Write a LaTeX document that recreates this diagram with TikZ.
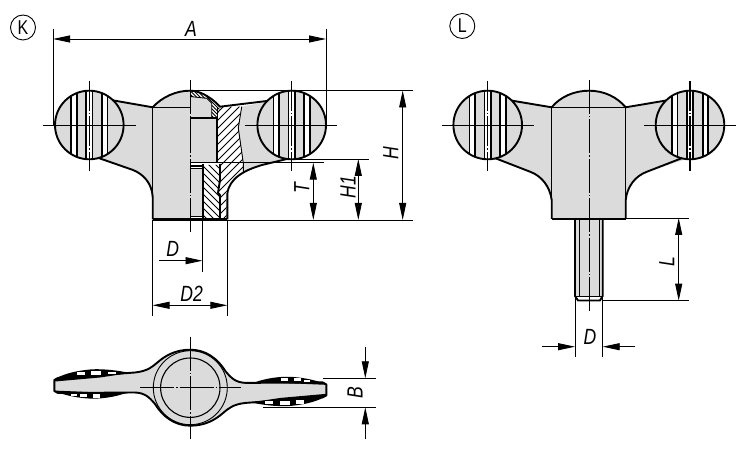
\documentclass[tikz,border=0pt]{standalone}
\usepackage{fontspec}
\newfontfamily\dimfont[FakeStretch=0.8]{Liberation Sans}
\usetikzlibrary{arrows.meta}
\definecolor{partgray}{gray}{0.86}

\begin{document}
\begin{tikzpicture}[x=1pt, y=-1pt, %
      outl/.style={line width=1.9pt, line join=round}, %
      midl/.style={line width=1.1pt}, %
      thinl/.style={line width=0.9pt}, %
      ctr/.style={line width=0.9pt, dash pattern=on 34pt off 2pt on 1.5pt off 2pt}, %
      hatchl/.style={line width=0.75pt}, %
      arr/.style={line width=0.9pt, -{Triangle[length=17pt,width=7pt]}}, %
      arrboth/.style={line width=0.9pt, {Triangle[length=17pt,width=7pt]}-{Triangle[length=17pt,width=7pt]}}, %
      lab/.style={font=\dimfont\itshape\fontsize{22}{22}\selectfont, inner sep=0pt}, %
      tag/.style={font=\dimfont\fontsize{20}{20}\selectfont, circle, draw, line width=0.9pt, minimum size=25pt, inner sep=0pt}, %
      ]
    \useasboundingbox (0,0) rectangle (750,454);

    % view K, left half
    \draw[fill=partgray, draw=none] (108,99.5) -- (152.7,107.3) .. controls (162,97) and (176,90.7) .. (190,90.7) -- (190,219.5) -- (152.7,219.5) -- (152.7,197) .. controls (152,183) and (143,174) .. (133,170) -- (90,155) -- cycle;
    \draw[outl] (108,99.5) -- (152.7,107.3) .. controls (162,97) and (176,90.7) .. (190,90.7);
    \draw[outl] (90,155) -- (133,170) .. controls (143,174) and (152,183) .. (152.7,197) -- (152.7,219.5);
    \draw[midl] (152.7,107.3) -- (152.7,197);
    \draw[midl] (152.7,107.5) -- (190,107.5);

    % view K, wing behind the section
    \fill[partgray] (241.7,106.7) -- (275,100) -- (291,158) -- (262,165) -- (243,172.5) -- (243.3,163.3) -- (241.7,151.7) -- (238.3,128) -- cycle;
    \fill[partgray] (190,96.5) -- (206.7,98.3) -- (211.7,103.3) -- (211.7,118.3) -- (190,118.3) -- cycle;
    \fill[partgray] (190,118.3) rectangle (217.3,162);
    \fill[partgray] (190,168.3) rectangle (202.3,216.5);

    % view K, hatched section
    \begin{scope}
      \clip (218,106.7) -- (241.7,106.7) -- (238.3,128) -- (241.7,151.7) -- (243.3,163.3) -- (243.3,172) -- (230,181.7) -- (226.7,191.7) -- (226.7,219.5) -- (220,219.5) -- (220,195) -- (218,193) -- (220,180) -- (220,164) -- (217.3,162) -- cycle;
      \foreach \h in {60,68,...,280} { %
        \draw[hatchl] (\h,230) -- ++(130,-130);
      }
    \end{scope}
    \begin{scope}
      \clip (203,165) -- (220,165) -- (220,180) -- (218,193) -- (220,195) -- (220,219.5) -- (203,219.5) -- cycle;
      \foreach \h in {60,67,...,230} { %
        \draw[hatchl] (\h,100) -- ++(130,130);
      }
    \end{scope}
    \begin{scope}
      \clip (190,90.7) .. controls (197,90.7) and (208,94) .. (220,106.7) -- (217.3,118) -- (211.7,118.3) -- (211.7,103.3) -- (206.7,98.3) -- (190,96.5) -- cycle;
      \foreach \h in {100,103.5,...,230} { %
        \draw[hatchl] (\h,60) -- ++(60,60);
      }
    \end{scope}

    % view K, section outlines
    \draw[outl] (190,90.7) .. controls (197,90.7) and (208,94) .. (220,106.7) -- (275,100);
    \draw[thinl] (190,96.5) -- (206.7,98.3) -- (211.7,103.3) -- (211.7,118.3);
    \draw[outl] (190,118.3) -- (217.3,118.3) -- (217.3,162);
    \draw[thinl] (217.3,106.7) -- (217.3,118.3);
    \draw[thinl] (241.7,106.7) -- (238.3,128) -- (241.7,151.7) -- (243.3,163.3) -- (243.3,172);
    \draw[outl] (190,162.5) -- (218,162.5);
    \draw[thinl] (218,162.5) -- (243.3,162.5);
    \draw[outl] (190,165.8) -- (203.5,165.8);
    \draw[thinl] (190,168.3) -- (202.3,168.3);
    \draw[outl] (203.3,164.5) -- (203.3,219.5);
    \draw[outl] (220,164) -- (220,180) -- (218,193) -- (220,195) -- (220,219.5);
    \draw[thinl] (190,216.5) -- (203,216.5);
    \draw[outl] (291,158) -- (262,165) .. controls (245,170) and (229,178) .. (227.3,194) -- (227.3,219.5);
    \draw[line width=2.6pt] (152.7,219.5) -- (227.3,219.5);

    % view L, body
    \fill[partgray] (505,99.5) -- (551.7,107.3) .. controls (560,97) and (574,90.7) .. (589,90.7) .. controls (604,90.7) and (617,97) .. (625.7,107.3) -- (672,99.5) -- (690,158) -- (647,171.7) .. controls (635,176) and (627,187) .. (625.7,200) -- (625.7,219) -- (551.7,219) -- (551.7,200) .. controls (550,187) and (542,176) .. (530,171.7) -- (487,155) -- cycle;
    \draw[outl] (505,99.5) -- (551.7,107.3) .. controls (560,97) and (574,90.7) .. (589,90.7) .. controls (604,90.7) and (617,97) .. (625.7,107.3) -- (672,99.5);
    \draw[outl] (690,155) -- (647,171.7) .. controls (635,176) and (627,187) .. (625.7,200) -- (625.7,219);
    \draw[outl] (487,155) -- (530,171.7) .. controls (542,176) and (550,187) .. (551.7,200) -- (551.7,219);
    \draw[midl] (551.7,107.3) -- (551.7,200);
    \draw[midl] (625.7,107.3) -- (625.7,200);
    \draw[midl] (551.7,107.3) -- (625.7,107.3);
    \draw[line width=2.6pt] (551.7,219) -- (625.7,219);

    % view L, stud
    \fill[partgray] (575,220) rectangle (602.7,296);
    \draw[outl] (575,220) -- (575,296) -- (578,300.5) -- (600,300.5) -- (602.7,296) -- (602.7,220);
    \draw[thinl] (579.3,220) -- (579.3,296);
    \draw[thinl] (599,220) -- (599,296);
    \draw[thinl] (575,296) -- (602.7,296);

    % balls with ribs
    \foreach \bx/\lft/\rgt/\tp in {89.3/43/136/79, 291.7/245/337/79, 487.7/441.7/534/79, 690/644/735.7/79}{ %
      \fill[partgray] (\bx,125) circle [radius=34.3pt];
      \begin{scope}
        \clip (\bx,125) circle [radius=34.3pt];
        \foreach \rib in {-15.3,0,15.3} { %
          \fill[white] (\bx+\rib-2.9,85) rectangle (\bx+\rib+2.9,165);
        }
        \foreach \rib in {-18.2,-12.6,-3.2,3.2,12.6,18.2} { %
          \draw[line width=1.8pt] (\bx+\rib,85) -- (\bx+\rib,165);
        }
      \end{scope}
      \draw[outl] (\bx,125) circle [radius=34.3pt];
      \draw[thinl] (\lft,125) -- (\rgt,125);
      \draw[line width=1.1pt, dash pattern=on 30pt off 2pt on 1.5pt off 2pt, dash phase=-2pt] (\bx,\tp) -- (\bx,171);
    }

    % top view
    \foreach \rot in {0,180}{ %
      \begin{scope}[rotate around={\rot:(190.3,387.7)}]
        \draw[outl, fill=partgray] (190.3,349.7) .. controls (175,349.7) and (165,356) .. (158,362) .. controls (152,367) and (148,371) .. (135,372.5) -- (58,378) -- (54.3,380) -- (54.3,391) -- (58,393) -- (135,392.5) .. controls (145,393) and (149,397) .. (155,404) .. controls (163,417) and (175,425.7) .. (190.3,425.7);
        \fill (54.3,379.5) .. controls (60,375.5) and (72,371) .. (92,369.3) .. controls (105,368.8) and (118,370.5) .. (130,373) -- (100,377.5) -- (55,381.5) -- cycle;
        \fill (54.3,391) .. controls (62,394) and (72,397.5) .. (90,398.6) .. controls (102,399) and (115,397) .. (126,393) -- (100,392.5) -- (55,390.6) -- cycle;
        \foreach \sx/\sy/\sw/\sh in {77/371.8/8/3.6, 91/370.8/10/3.8, 108/371.8/8/2.6, 71/393.6/6/2.2, 80/394.2/7/3.2, 93/394.4/7/3.2} { %
          \fill[white] (\sx,\sy) rectangle ++(\sw,\sh);
        }
      \end{scope}
    }
    \draw[thinl] (190.3,387.7) circle [radius=37pt];
    \draw[midl] (190.3,387.7) circle [radius=29.7pt];
    \draw[ctr] (190.3,336.7) -- (190.3,439);
    \draw[ctr] (140,387.7) -- (240.7,387.7);

    % centre lines
    \draw[ctr] (190,80) -- (190,231.7);
    \draw[ctr] (589,80) -- (589,310.7);

    % dimensions, view K
    \draw[thinl] (53,29) -- (53,125);
    \draw[thinl] (326,29) -- (326,124);
    \draw[arrboth] (53,39) -- (326,39);
    \draw[thinl] (190,90.5) -- (413,90.5);
    \draw[thinl] (227,220) -- (413,220);
    \draw[thinl] (283,159) -- (369,159);
    \draw[thinl] (243,162.7) -- (324,162.7);
    \draw[arrboth] (402.7,90.5) -- (402.7,220);
    \draw[arrboth] (358.3,159) -- (358.3,220);
    \draw[arrboth] (313.3,162.7) -- (313.3,220);
    \draw[thinl] (202.5,220) -- (202.5,271.7);
    \draw[arr] (159,260.7) -- (202.5,260.7);
    \draw[thinl] (152.5,220) -- (152.5,315.7);
    \draw[thinl] (227.3,220) -- (227.3,315.7);
    \draw[arrboth] (152.5,305.3) -- (227.3,305.3);

    % dimensions, view L
    \draw[thinl] (625,218) -- (689,218);
    \draw[thinl] (602.7,300.7) -- (689,300.7);
    \draw[arrboth] (678.7,218) -- (678.7,300.7);
    \draw[thinl] (575,297) -- (575,357.3);
    \draw[thinl] (602.7,297) -- (602.7,357.3);
    \draw[arr] (542.3,346.7) -- (575,346.7);
    \draw[arr] (635,346.7) -- (602.7,346.7);

    % dimension, top view
    \draw[thinl] (323,378.3) -- (375.7,378.3);
    \draw[thinl] (263,407.3) -- (375.7,407.3);
    \draw[arr] (365.3,346.7) -- (365.3,378.3);
    \draw[arr] (365.3,439) -- (365.3,407.3);

    % labels
    \node[tag] (tagK) at (23,27.5) {K};
    \node[tag] (tagL) at (462.3,26) {L};
    \foreach \a/\txt/\x/\y/\ang in { %
      lblA/A/191/29/0, %
      lblH/H/390.7/153/90, %
      lblHone/H1/348/187/90, %
      lblT/T/301.7/188/90, %
      lblD/D/172.7/249/0, %
      lblDtwo/D2/191.7/294/0, %
      lblL/L/666.7/261.7/90, %
      lblDstud/D/590/336.7/0, %
      lblB/B/355/392.3/90%
    }{ %
      \node[lab, rotate=\ang] (\a) at (\x,\y) {\txt};
    }
\end{tikzpicture}
\end{document}
